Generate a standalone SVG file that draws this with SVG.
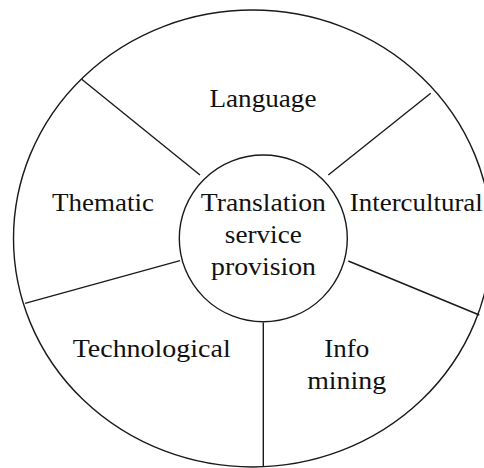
<svg xmlns="http://www.w3.org/2000/svg" width="484" height="468" viewBox="0 0 484 468">
<style>
.ln{fill:none;stroke:#1a1a1a;stroke-width:1.4}
.t{font-family:"Liberation Serif","Times New Roman",serif;font-size:26px;fill:#111;text-anchor:middle}
</style>
<rect width="484" height="468" fill="#fff"/>
<g id="outer-ring">
<ellipse class="ln" cx="252.5" cy="238.5" rx="239" ry="228.5"/>
</g>
<g id="connectors">
<line class="ln" x1="81.7" y1="79.3" x2="200" y2="175"/>
<line class="ln" x1="430.7" y1="93.3" x2="328.3" y2="175"/>
<line class="ln" x1="25" y1="303.3" x2="180" y2="260.7"/>
<line class="ln" x1="348.3" y1="261" x2="479.3" y2="315"/>
<line class="ln" x1="263.3" y1="322.5" x2="263.3" y2="467"/>
</g>
<g id="center">
<ellipse class="ln" cx="263.3" cy="238.4" rx="84" ry="83.4"/>
<text class="t" x="263.3" y="210.7" textLength="125" lengthAdjust="spacingAndGlyphs">Translation</text>
<text class="t" x="263.3" y="243.3" textLength="77" lengthAdjust="spacingAndGlyphs">service</text>
<text class="t" x="263.5" y="275" textLength="105" lengthAdjust="spacingAndGlyphs">provision</text>
</g>
<g id="language"><text class="t" x="263" y="107.3" textLength="107" lengthAdjust="spacingAndGlyphs">Language</text></g>
<g id="thematic"><text class="t" x="102.9" y="211" textLength="102" lengthAdjust="spacingAndGlyphs">Thematic</text></g>
<g id="intercultural"><text class="t" x="416.3" y="211" textLength="133" lengthAdjust="spacingAndGlyphs">Intercultural</text></g>
<g id="technological"><text class="t" x="151.7" y="356.7" textLength="158" lengthAdjust="spacingAndGlyphs">Technological</text></g>
<g id="info-mining">
<text class="t" x="346.7" y="356.7" textLength="45" lengthAdjust="spacingAndGlyphs">Info</text>
<text class="t" x="346.7" y="389.3" textLength="79" lengthAdjust="spacingAndGlyphs">mining</text>
</g>
</svg>
